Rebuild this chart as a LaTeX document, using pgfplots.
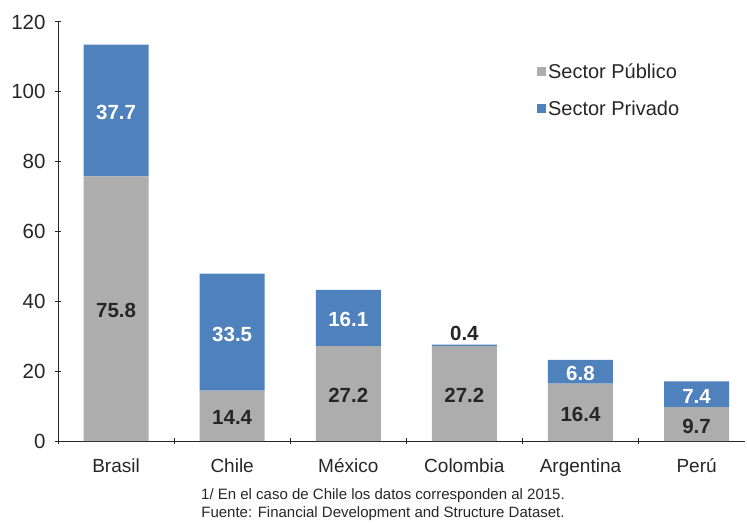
\documentclass[border=0pt]{standalone}
\usepackage{pgfplots}
\pgfplotsset{compat=1.18}
\usepackage{fontspec}
\setmainfont{Liberation Sans}
\definecolor{publico}{HTML}{ADADAD}
\definecolor{privado}{HTML}{4F81BD}
\definecolor{txt}{HTML}{262626}

\begin{document}
\begin{tikzpicture}
\begin{axis}[
    name=ax,
    scale only axis,
    width=687bp, height=419bp,
    ybar stacked,
    bar width=0.56,
    xmin=-0.5, xmax=5.417,
    ymin=0, ymax=120,
    ytick={0,20,...,120},
    xtick={0,...,5},
    xticklabels={Brasil,Chile,México,Colombia,Argentina,Perú},
    minor xtick={-0.5,0.5,...,4.5},
    major x tick style={draw=none},
    minor tick length=6bp,
    major tick length=6bp,
    tick align=outside,
    axis lines=left,
    axis line style={black!85, line width=1pt, -},
    tick style={black!85, line width=1pt},
    /pgf/number format/assume math mode=true,
    xticklabel style={font=\fontsize{19bp}{22bp}\selectfont, text=txt, yshift=-11bp},
    yticklabel style={font=\fontsize{20.5bp}{23bp}\selectfont, text=txt, xshift=-6bp},
    legend style={draw=none, fill=none, at={(0.697,0.905)}, anchor=north west,
        font=\fontsize{20bp}{23bp}\selectfont, text=txt,
        row sep=17bp, inner sep=0pt},
    legend cell align=left,
    legend image code/.code={\fill[#1] (-6bp,-4bp) rectangle (3bp,5bp);},
    % etiquetas centradas en cada segmento
    nodes near coords,
    point meta=explicit symbolic,
    every node near coord/.style={anchor=center, yshift=-2bp,
        font=\bfseries\fontsize{20.5bp}{23bp}\selectfont},
    clip=false,
]
\addplot[fill=publico, draw=none,
    every node near coord/.append style={text=txt}] table[meta=lab] {
    x  y     lab
    0  75.8  75.8
    1  14.4  14.4
    2  27.2  27.2
    3  27.2  27.2
    4  16.4  16.4
    5  9.7   9.7
    };
\addlegendentry{Sector Público}
\addplot[fill=privado, draw=none,
    every node near coord/.append style={text=white}] table[meta=lab] {
    x  y     lab
    0  37.7  37.7
    1  33.5  33.5
    2  16.1  16.1
    3  0.4   {}
    4  6.8   6.8
    5  7.4   7.4
    };
\addlegendentry{Sector Privado}
\node[font=\bfseries\fontsize{20.5bp}{23bp}\selectfont, text=txt, anchor=center]
    at (axis cs:3,30.7) {0.4};
\end{axis}
\node[font=\fontsize{15bp}{18bp}\selectfont, text=txt, anchor=center]
    at ([xshift=325bp,yshift=-55bp]ax.south west)
    {1/ En el caso de Chile los datos corresponden al 2015.};
\node[font=\fontsize{15bp}{18bp}\selectfont, text=txt, anchor=center]
    at ([xshift=325bp,yshift=-73bp]ax.south west)
    {Fuente: Financial Development and Structure Dataset.};
\pgfresetboundingbox
\path ([xshift=-58bp,yshift=-82bp]ax.south west) rectangle ([xshift=2bp,yshift=22bp]ax.north east);
\end{tikzpicture}
\end{document}
